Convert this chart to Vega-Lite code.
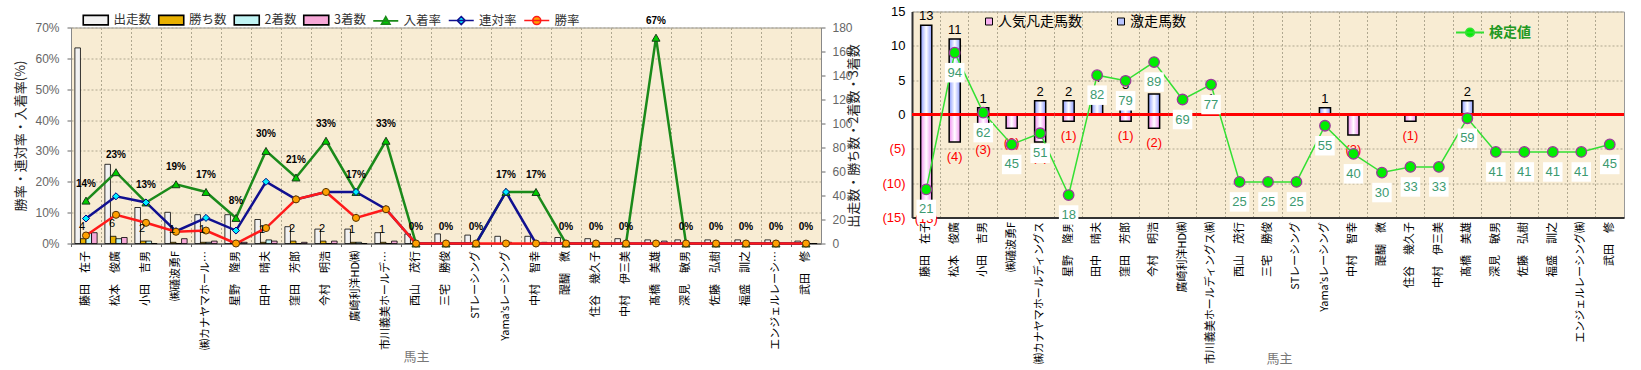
{
  "$schema": "https://vega.github.io/schema/vega-lite/v6.json",
  "padding": {"left": 13, "top": 4.5, "right": 0, "bottom": 0},
  "background": "white",
  "config": {"font": "Noto Sans CJK JP"},
  "spacing": 20,
  "resolve": {"scale": {"fill": "independent", "stroke": "independent", "shape": "independent", "color": "independent"}, "legend": {"fill": "independent", "stroke": "independent", "shape": "independent", "color": "independent"}},
  "datasets": {
    "owners": [
      {"馬主": "藤田　在子", "出走数": 163, "勝ち数": 4, "2着数": 9, "3着数": 9, "勝率": 0.026, "連対率": 0.081, "入着率": 0.139, "激走馬数": 13, "人気凡走馬数": -13, "検定値": 21},
      {"馬主": "松本　俊廣", "出走数": 66, "勝ち数": 6, "2着数": 4, "3着数": 5, "勝率": 0.093, "連対率": 0.153, "入着率": 0.231, "激走馬数": 11, "人気凡走馬数": -4, "検定値": 94},
      {"馬主": "小田　吉男", "出走数": 30, "勝ち数": 2, "2着数": 2, "3着数": 0, "勝率": 0.067, "連対率": 0.133, "入着率": 0.133, "激走馬数": 1, "人気凡走馬数": -3, "検定値": 62},
      {"馬主": "㈱礒波勇F", "出走数": 26, "勝ち数": 1, "2着数": 0, "3着数": 4, "勝率": 0.038, "連対率": 0.040, "入着率": 0.192, "激走馬数": 0, "人気凡走馬数": -2, "検定値": 45},
      {"馬主": "㈱カナヤマホールディングス", "出走数": 24, "勝ち数": 1, "2着数": 1, "3着数": 2, "勝率": 0.042, "連対率": 0.083, "入着率": 0.167, "激走馬数": 2, "人気凡走馬数": -4, "検定値": 51},
      {"馬主": "星野　隆男", "出走数": 24, "勝ち数": 0, "2着数": 1, "3着数": 1, "勝率": 0, "連対率": 0.042, "入着率": 0.083, "激走馬数": 2, "人気凡走馬数": -1, "検定値": 18},
      {"馬主": "田中　晴夫", "出走数": 20, "勝ち数": 1, "2着数": 3, "3着数": 2, "勝率": 0.05, "連対率": 0.20, "入着率": 0.30, "激走馬数": 4, "人気凡走馬数": 0, "検定値": 82},
      {"馬主": "窪田　芳郎", "出走数": 14, "勝ち数": 2, "2着数": 0, "3着数": 1, "勝率": 0.143, "連対率": 0.143, "入着率": 0.214, "激走馬数": 3, "人気凡走馬数": -1, "検定値": 79},
      {"馬主": "今村　明浩", "出走数": 12, "勝ち数": 2, "2着数": 0, "3着数": 2, "勝率": 0.167, "連対率": 0.167, "入着率": 0.333, "激走馬数": 3, "人気凡走馬数": -2, "検定値": 89},
      {"馬主": "廣崎利洋HD㈱", "出走数": 12, "勝ち数": 1, "2着数": 1, "3着数": 0, "勝率": 0.083, "連対率": 0.167, "入着率": 0.167, "激走馬数": 0, "人気凡走馬数": 0, "検定値": 69},
      {"馬主": "市川義美ホールディングス㈱", "出走数": 9, "勝ち数": 1, "2着数": 0, "3着数": 2, "勝率": 0.111, "連対率": 0.111, "入着率": 0.333, "激走馬数": 1, "人気凡走馬数": 0, "検定値": 77},
      {"馬主": "西山　茂行", "出走数": 8, "勝ち数": 0, "2着数": 0, "3着数": 0, "勝率": 0, "連対率": 0, "入着率": 0, "激走馬数": 0, "人気凡走馬数": 0, "検定値": 25},
      {"馬主": "三宅　勝俊", "出走数": 8, "勝ち数": 0, "2着数": 0, "3着数": 0, "勝率": 0, "連対率": 0, "入着率": 0, "激走馬数": 0, "人気凡走馬数": 0, "検定値": 25},
      {"馬主": "STレーシング", "出走数": 7, "勝ち数": 0, "2着数": 0, "3着数": 0, "勝率": 0, "連対率": 0, "入着率": 0, "激走馬数": 0, "人気凡走馬数": 0, "検定値": 25},
      {"馬主": "Yama’sレーシング", "出走数": 6, "勝ち数": 0, "2着数": 1, "3着数": 0, "勝率": 0, "連対率": 0.167, "入着率": 0.167, "激走馬数": 1, "人気凡走馬数": 0, "検定値": 55},
      {"馬主": "中村　智幸", "出走数": 6, "勝ち数": 0, "2着数": 0, "3着数": 1, "勝率": 0, "連対率": 0, "入着率": 0.167, "激走馬数": 0, "人気凡走馬数": -3, "検定値": 40},
      {"馬主": "醍醐　微", "出走数": 5, "勝ち数": 0, "2着数": 0, "3着数": 0, "勝率": 0, "連対率": 0, "入着率": 0, "激走馬数": 0, "人気凡走馬数": 0, "検定値": 30},
      {"馬主": "住谷　幾久子", "出走数": 4, "勝ち数": 0, "2着数": 0, "3着数": 0, "勝率": 0, "連対率": 0, "入着率": 0, "激走馬数": 0, "人気凡走馬数": -1, "検定値": 33},
      {"馬主": "中村　伊三美", "出走数": 4, "勝ち数": 0, "2着数": 0, "3着数": 0, "勝率": 0, "連対率": 0, "入着率": 0, "激走馬数": 0, "人気凡走馬数": 0, "検定値": 33},
      {"馬主": "髙橋　美雄", "出走数": 3, "勝ち数": 0, "2着数": 0, "3着数": 2, "勝率": 0, "連対率": 0, "入着率": 0.667, "激走馬数": 2, "人気凡走馬数": 0, "検定値": 59},
      {"馬主": "深見　敏男", "出走数": 3, "勝ち数": 0, "2着数": 0, "3着数": 0, "勝率": 0, "連対率": 0, "入着率": 0, "激走馬数": 0, "人気凡走馬数": 0, "検定値": 41},
      {"馬主": "佐藤　弘樹", "出走数": 3, "勝ち数": 0, "2着数": 0, "3着数": 0, "勝率": 0, "連対率": 0, "入着率": 0, "激走馬数": 0, "人気凡走馬数": 0, "検定値": 41},
      {"馬主": "福盛　訓之", "出走数": 3, "勝ち数": 0, "2着数": 0, "3着数": 0, "勝率": 0, "連対率": 0, "入着率": 0, "激走馬数": 0, "人気凡走馬数": 0, "検定値": 41},
      {"馬主": "エンジェルレーシング㈱", "出走数": 3, "勝ち数": 0, "2着数": 0, "3着数": 0, "勝率": 0, "連対率": 0, "入着率": 0, "激走馬数": 0, "人気凡走馬数": 0, "検定値": 41},
      {"馬主": "武田　修", "出走数": 2, "勝ち数": 0, "2着数": 0, "3着数": 0, "勝率": 0, "連対率": 0, "入着率": 0, "激走馬数": 0, "人気凡走馬数": 0, "検定値": 45}
    ]
  },
  "hconcat": [
    {
      "spacing": 0,
      "resolve": {"scale": {"fill": "independent", "stroke": "independent", "shape": "independent", "color": "independent"}, "legend": {"fill": "independent", "stroke": "independent", "shape": "independent", "color": "independent"}},
      "vconcat": [
        {
          "data": {"values": []},
          "mark": "point",
          "width": 750,
          "height": 1,
          "view": {"stroke": null}
        },
        {
          "width": 750,
          "height": 216,
          "data": {"name": "owners"},
          "view": {"fill": "#f8ecd3", "stroke": "#999999"},
          "encoding": {
            "x": {
              "field": "馬主", "type": "nominal",
              "sort": ["藤田　在子", "松本　俊廣", "小田　吉男", "㈱礒波勇F", "㈱カナヤマホールディングス", "星野　隆男", "田中　晴夫", "窪田　芳郎", "今村　明浩", "廣崎利洋HD㈱", "市川義美ホールディングス㈱", "西山　茂行", "三宅　勝俊", "STレーシング", "Yama’sレーシング", "中村　智幸", "醍醐　微", "住谷　幾久子", "中村　伊三美", "髙橋　美雄", "深見　敏男", "佐藤　弘樹", "福盛　訓之", "エンジェルレーシング㈱", "武田　修"],
              "scale": {"paddingInner": 0, "paddingOuter": 0},
              "axis": {
                "title": "馬主", "titleFontSize": 13, "titleFontWeight": "normal", "titleColor": "#777777",
                "titleX": 345, "titleY": 113, "titleBaseline": "middle",
                "labelAngle": -90, "labelFontSize": 11, "labelColor": "#000000", "labelLimit": 102, "labelPadding": 4,
                "bandPosition": 0, "tickSize": 3, "tickColor": "#666666",
                "grid": true, "gridDash": [2, 2], "gridColor": "#b0a890",
                "domainColor": "#666666", "domainWidth": 1.5
              }
            }
          },
          "layer": [
            {
              "transform": [{"fold": ["出走数", "勝ち数", "2着数", "3着数"], "as": ["series", "value"]}],
              "mark": {"type": "bar", "stroke": "#000000", "strokeWidth": 0.8},
              "encoding": {
                "xOffset": {"field": "series", "type": "nominal", "scale": {"domain": ["出走数", "勝ち数", "2着数", "3着数"], "paddingInner": 0, "paddingOuter": 0.7}},
                "y": {"field": "value", "type": "quantitative", "scale": {"domain": [0, 180]},
                  "axis": {"orient": "right", "values": [0, 20, 40, 60, 80, 100, 120, 140, 160, 180],
                    "title": "出走数・勝ち数・2着数・3着数", "titleAngle": -90, "titleBaseline": "top", "titleFontSize": 13, "titleFontWeight": "normal", "titleColor": "#222222",
                    "titlePadding": 2, "labelFontSize": 12, "labelFont": "Liberation Sans", "labelColor": "#666666",
                    "tickSize": 4, "tickColor": "#666666", "labelPadding": 7, "domainColor": "#888888", "grid": false,
                    "minExtent": 24, "maxExtent": 24}},
                "color": {"field": "series", "type": "nominal",
                  "scale": {"domain": ["入着率", "連対率", "勝率", "出走数", "勝ち数", "2着数", "3着数"],
                    "range": ["#1a8a1a", "#101090", "#ff1a1a", "#f2f2f2", "#e8b000", "#c0f4f4", "#f7a8d8"]},
                  "legend": null}
              }
            },
            {
              "transform": [{"fold": ["入着率", "連対率", "勝率"], "as": ["series", "value"]}],
              "mark": {"type": "line", "strokeWidth": 2.5},
              "encoding": {
                "y": {"field": "value", "type": "quantitative", "scale": {"domain": [0, 0.7]},
                  "axis": {"orient": "left", "values": [0, 0.1, 0.2, 0.3, 0.4, 0.5, 0.6, 0.7], "format": ".0%",
                    "title": "勝率・連対率・入着率(%)", "titleFontSize": 13, "titleFontWeight": "normal", "titleColor": "#222222", "titlePadding": 6,
                    "labelFontSize": 12, "labelFont": "Liberation Sans", "labelColor": "#666666", "labelPadding": 8,
                    "tickSize": 4, "tickColor": "#666666", "domainColor": "#888888",
                    "grid": true, "gridDash": [2, 2], "gridColor": "#b0a890", "minExtent": 38, "maxExtent": 38}},
                "color": {"field": "series", "type": "nominal",
                  "scale": {"domain": ["入着率", "連対率", "勝率", "出走数", "勝ち数", "2着数", "3着数"],
                    "range": ["#1a8a1a", "#101090", "#ff1a1a", "#f2f2f2", "#e8b000", "#c0f4f4", "#f7a8d8"]},
                  "legend": null}
              }
            },
            {
              "mark": {"type": "point", "shape": "triangle-up", "filled": true, "fill": "#00cc00", "stroke": "#1a3a1a", "strokeWidth": 1, "size": 65, "opacity": 1},
              "encoding": {"y": {"field": "入着率", "type": "quantitative", "scale": {"domain": [0, 0.7]}, "axis": null}}
            },
            {
              "mark": {"type": "point", "shape": "diamond", "filled": true, "fill": "#00f0ff", "stroke": "#000080", "strokeWidth": 1, "size": 50, "opacity": 1},
              "encoding": {"y": {"field": "連対率", "type": "quantitative", "scale": {"domain": [0, 0.7]}, "axis": null}}
            },
            {
              "mark": {"type": "point", "shape": "circle", "filled": true, "fill": "#ffa000", "stroke": "#553300", "strokeWidth": 1, "size": 50, "opacity": 1},
              "encoding": {"y": {"field": "勝率", "type": "quantitative", "scale": {"domain": [0, 0.7]}, "axis": null}}
            },
            {
              "mark": {"type": "text", "dy": -17, "fontSize": 10, "fontWeight": "bold", "font": "Liberation Sans", "color": "#000000"},
              "encoding": {
                "y": {"field": "入着率", "type": "quantitative", "scale": {"domain": [0, 0.7]}, "axis": null},
                "text": {"field": "入着率", "type": "quantitative", "format": ".0%"}
              }
            },
            {
              "transform": [{"filter": "datum['勝ち数'] > 0"}],
              "mark": {"type": "text", "dx": -4, "dy": -12, "fontSize": 11, "font": "Liberation Sans", "color": "#000000"},
              "encoding": {
                "y": {"field": "勝ち数", "type": "quantitative", "scale": {"domain": [0, 180]}, "axis": null},
                "text": {"field": "勝ち数", "type": "quantitative"}
              }
            },
            {
              "transform": [{"fold": ["出走数", "勝ち数", "2着数", "3着数", "入着率", "連対率", "勝率"], "as": ["series", "value"]}],
              "mark": {"type": "point", "filled": true, "opacity": 0},
              "encoding": {
                "fill": {"field": "series", "type": "nominal",
                  "scale": {"domain": ["出走数", "勝ち数", "2着数", "3着数", "入着率", "連対率", "勝率"],
                    "range": ["#f2f2f2", "#e8b000", "#c0f4f4", "#f7a8d8", "#00cc00", "#00f0ff", "#ffa000"]},
                  "legend": {"title": null, "orient": "none", "legendX": 11, "legendY": -14, "padding": 0, "direction": "horizontal",
                    "symbolSize": 100, "symbolStrokeWidth": 1.6, "symbolOpacity": 1, "labelFontSize": 12.5, "labelColor": "#333333",
                    "labelFont": "Noto Sans CJK JP", "columnPadding": 3.5, "labelOffset": 19,
                    "encode": {"symbols": {"update": {
                      "fill": {"signal": "datum.value === '出走数' ? '#f2f2f2' : datum.value === '勝ち数' ? '#e8b000' : datum.value === '2着数' ? '#c0f4f4' : datum.value === '3着数' ? '#f7a8d8' : datum.value === '入着率' ? '#00cc00' : datum.value === '連対率' ? '#00f0ff' : '#ffa000'"},
                      "stroke": {"signal": "datum.value === '入着率' ? '#1a8a1a' : datum.value === '連対率' ? '#101090' : datum.value === '勝率' ? '#ff1a1a' : '#000000'"},
                      "opacity": {"value": 1}}}}}},
                "shape": {"field": "series", "type": "nominal",
                  "scale": {"domain": ["出走数", "勝ち数", "2着数", "3着数", "入着率", "連対率", "勝率"],
                    "range": ["M-1,-0.95H4V0.95H-1Z", "M-1,-0.95H4V0.95H-1Z", "M-1,-0.95H4V0.95H-1Z", "M-1,-0.95H4V0.95H-1Z",
                      "M-1,0H4M1.5,-0.85L2.35,0.65L0.65,0.65Z", "M-1,0H4M1.5,-0.8L2.3,0L1.5,0.8L0.7,0Z",
                      "M-1,0H4M2.3,0A0.8,0.8,0,1,1,0.7,0A0.8,0.8,0,1,1,2.3,0Z"]}}
              }
            }
          ],
          "resolve": {"scale": {"y": "independent"}}
        }
      ]
    },
    {
      "width": 712,
      "height": 206,
      "data": {"name": "owners"},
      "view": {"fill": "#f8ecd3", "stroke": "#999999"},
      "encoding": {
        "x": {
          "field": "馬主", "type": "nominal",
          "sort": ["藤田　在子", "松本　俊廣", "小田　吉男", "㈱礒波勇F", "㈱カナヤマホールディングス", "星野　隆男", "田中　晴夫", "窪田　芳郎", "今村　明浩", "廣崎利洋HD㈱", "市川義美ホールディングス㈱", "西山　茂行", "三宅　勝俊", "STレーシング", "Yama’sレーシング", "中村　智幸", "醍醐　微", "住谷　幾久子", "中村　伊三美", "髙橋　美雄", "深見　敏男", "佐藤　弘樹", "福盛　訓之", "エンジェルレーシング㈱", "武田　修"],
          "scale": {"paddingInner": 0, "paddingOuter": 0},
          "axis": {
            "title": "馬主", "titleFontSize": 13, "titleFontWeight": "normal", "titleColor": "#777777",
            "titleX": 367, "titleY": 141, "titleBaseline": "middle",
            "labelAngle": -90, "labelFontSize": 11, "labelColor": "#000000", "labelLimit": 200, "labelPadding": 4,
            "bandPosition": 0, "tickSize": 0,
            "grid": true, "gridDash": [2, 2], "gridColor": "#b0a890",
            "domainColor": "#333333", "domainWidth": 2
          }
        }
      },
      "layer": [
        {
          "transform": [{"filter": "datum['激走馬数'] > 0"}],
          "mark": {"type": "bar", "width": {"band": 0.39}, "stroke": "#000000", "strokeWidth": 1.5,
            "fill": {"gradient": "linear", "x1": 0, "y1": 0, "x2": 1, "y2": 0,
              "stops": [{"offset": 0, "color": "#8c9cff"}, {"offset": 0.5, "color": "#ffffff"}, {"offset": 1, "color": "#8c9cff"}]}},
          "encoding": {
            "y": {"field": "激走馬数", "type": "quantitative", "scale": {"domain": [-15, 15]},
              "axis": {"orient": "left", "values": [-15, -10, -5, 0, 5, 10, 15], "title": null,
                "labelExpr": "datum.value < 0 ? '(' + (-datum.value) + ')' : datum.value",
                "labelColor": {"condition": {"test": "datum.value < 0", "value": "#ff0000"}, "value": "#000000"},
                "labelFontSize": 13, "labelFont": "Liberation Sans", "labelPadding": 7, "tickSize": 0,
                "domainColor": "#333333", "domainWidth": 2,
                "grid": true, "gridDash": [2, 2], "gridColor": "#b0a890"}}
          }
        },
        {
          "transform": [{"filter": "datum['人気凡走馬数'] < 0"}],
          "mark": {"type": "bar", "width": {"band": 0.39}, "stroke": "#000000", "strokeWidth": 1.5,
            "fill": {"gradient": "linear", "x1": 0, "y1": 0, "x2": 1, "y2": 0,
              "stops": [{"offset": 0, "color": "#f090f0"}, {"offset": 0.5, "color": "#ffffff"}, {"offset": 1, "color": "#f090f0"}]}},
          "encoding": {
            "y": {"field": "人気凡走馬数", "type": "quantitative", "scale": {"domain": [-15, 15]}, "axis": null}
          }
        },
        {
          "transform": [{"filter": "datum['激走馬数'] > 0"}],
          "mark": {"type": "text", "dy": -9, "fontSize": 13, "font": "Liberation Sans", "color": "#000000"},
          "encoding": {
            "y": {"field": "激走馬数", "type": "quantitative", "scale": {"domain": [-15, 15]}, "axis": null},
            "text": {"field": "激走馬数", "type": "quantitative"}
          }
        },
        {
          "transform": [{"filter": "datum['人気凡走馬数'] < 0"}],
          "mark": {"type": "text", "dy": 15, "fontSize": 13, "font": "Liberation Sans", "color": "#ff0000"},
          "encoding": {
            "y": {"field": "人気凡走馬数", "type": "quantitative", "scale": {"domain": [-15, 15]}, "axis": null},
            "text": {"field": "人気凡走馬数", "type": "quantitative", "format": "(d"}
          }
        },
        {
          "mark": {"type": "bar", "width": {"band": 1}, "fill": "#ff0000", "stroke": null},
          "encoding": {
            "y": {"datum": 0.22, "type": "quantitative", "scale": {"domain": [-15, 15]}, "axis": null},
            "y2": {"datum": -0.22}
          }
        },
        {
          "mark": {"type": "line", "stroke": "#33e033", "strokeWidth": 1.5},
          "encoding": {"y": {"field": "検定値", "type": "quantitative", "scale": {"domain": [6, 116], "zero": false}, "axis": null}}
        },
        {
          "mark": {"type": "point", "shape": "circle", "filled": true, "fill": "#00ee00", "stroke": "#9a3a9a", "strokeWidth": 1.3, "size": 110, "opacity": 1},
          "encoding": {"y": {"field": "検定値", "type": "quantitative", "scale": {"domain": [6, 116], "zero": false}, "axis": null}}
        },
        {
          "mark": {"type": "point", "shape": "square", "filled": true, "fill": "#ffffff", "strokeWidth": 0, "size": 380, "opacity": 1, "yOffset": 20},
          "encoding": {"y": {"field": "検定値", "type": "quantitative", "scale": {"domain": [6, 116], "zero": false}, "axis": null}}
        },
        {
          "mark": {"type": "text", "dy": 20, "fontSize": 13, "font": "Liberation Sans", "color": "#3c9a70"},
          "encoding": {
            "y": {"field": "検定値", "type": "quantitative", "scale": {"domain": [6, 116], "zero": false}, "axis": null},
            "text": {"field": "検定値", "type": "quantitative"}
          }
        },
        {
          "transform": [{"fold": ["人気凡走馬数", "激走馬数"], "as": ["series", "value"]}],
          "mark": {"type": "point", "filled": true, "opacity": 0},
          "encoding": {
            "fill": {"field": "series", "type": "nominal",
              "scale": {"domain": ["人気凡走馬数", "激走馬数"], "range": ["#f8b0f0", "#b8c4ff"]},
              "legend": {"title": null, "orient": "none", "legendX": 70, "legendY": 3, "direction": "horizontal",
                "symbolType": "square", "symbolSize": 49, "symbolStrokeColor": "#000000", "symbolStrokeWidth": 1, "symbolOpacity": 1,
                "labelFontSize": 14, "labelColor": "#000000", "labelFont": "Noto Sans CJK JP", "columnPadding": 32, "labelOffset": 2}}
          }
        },
        {
          "mark": {"type": "point", "filled": true, "fill": "#00ee00", "opacity": 0},
          "encoding": {
            "stroke": {"datum": "検定値", "type": "nominal", "scale": {"range": ["#33e033"]},
              "legend": {"title": null, "orient": "none", "legendX": 543, "legendY": 6,
                "symbolSize": 784, "symbolStrokeWidth": 1.8, "symbolOpacity": 1, "symbolFillColor": "#00ee00",
                "labelFontSize": 14, "labelFontWeight": "bold", "labelColor": "#229922", "labelFont": "Noto Sans CJK JP", "labelOffset": 4}},
            "shape": {"datum": "検定値", "type": "nominal",
              "scale": {"range": ["M-1,0H1M0.3,0A0.3,0.3,0,1,1,-0.3,0A0.3,0.3,0,1,1,0.3,0Z"]}}
          }
        }
      ],
      "resolve": {"scale": {"y": "independent"}}
    }
  ]
}
